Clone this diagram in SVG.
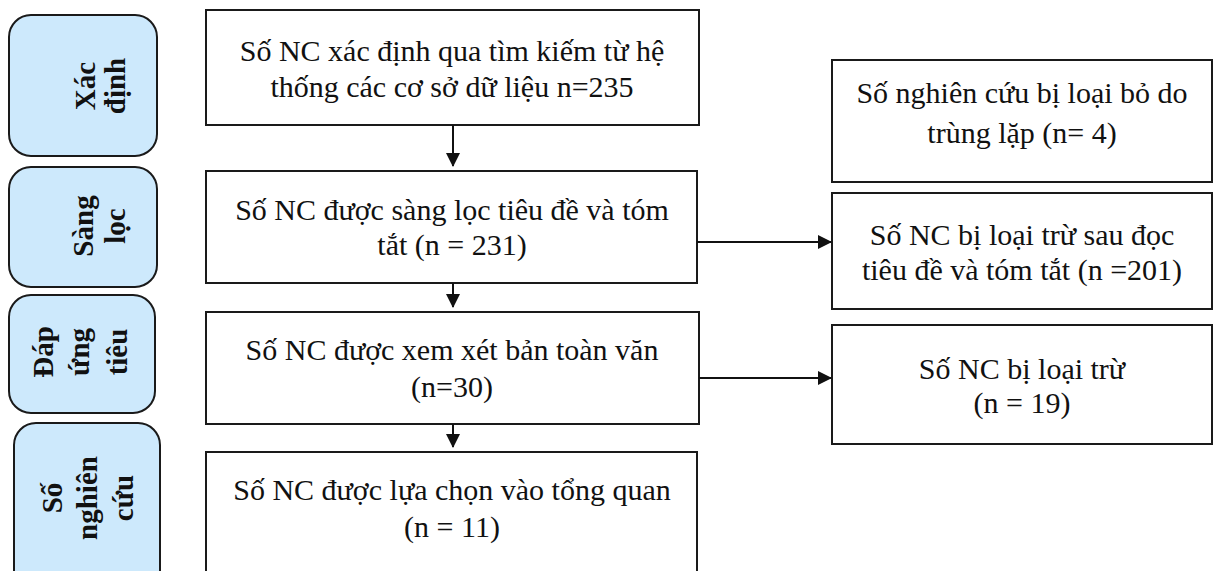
<svg xmlns="http://www.w3.org/2000/svg" width="1216" height="571" viewBox="0 0 1216 571">
<style>
.lbl{fill:#cde9fc;stroke:#1a1a1a;stroke-width:2}
.box{fill:#fff;stroke:#1a1a1a;stroke-width:2}
.lt{font-family:"Liberation Serif",serif;font-weight:bold;font-size:29px;fill:#111;text-anchor:middle}
.bt{font-family:"Liberation Serif",serif;font-size:30px;fill:#111;text-anchor:middle}
.con{stroke:#111;stroke-width:2;fill:none}
</style>
<defs>
<marker id="ah" markerWidth="14" markerHeight="14" refX="13" refY="7" orient="auto" markerUnits="userSpaceOnUse">
<path d="M0,0 L14,7 L0,14 Z" fill="#111"/>
</marker>
</defs>
<rect width="1216" height="571" fill="#fff"/>
<g id="label-xacdinh">
<rect class="lbl" x="9" y="15" width="148" height="141" rx="22"/>
<g transform="translate(83,86) rotate(-90)"><text class="lt" x="0" y="12">Xác</text><text class="lt" x="0" y="42">định</text></g>
</g>
<g id="label-sangloc">
<rect class="lbl" x="9" y="167" width="148" height="120" rx="22"/>
<g transform="translate(83,226) rotate(-90)"><text class="lt" x="0" y="10">Sàng</text><text class="lt" x="0" y="42">lọc</text></g>
</g>
<g id="label-dapung">
<rect class="lbl" x="9" y="295" width="146" height="118" rx="22"/>
<g transform="translate(83,352) rotate(-90)"><text class="lt" x="0" y="-30">Đáp</text><text class="lt" x="0" y="6">ứng</text><text class="lt" x="0" y="44">tiêu</text></g>
</g>
<g id="label-songhiencuu">
<rect class="lbl" x="14" y="423" width="146" height="170" rx="22"/>
<g transform="translate(87,498) rotate(-90)"><text class="lt" x="0" y="-25">Số</text><text class="lt" x="0" y="10">nghiên</text><text class="lt" x="0" y="46">cứu</text></g>
</g>
<g id="box-identified">
<rect class="box" x="206" y="10" width="493" height="115"/>
<text class="bt" x="452" y="61">Số NC xác định qua tìm kiếm từ hệ</text>
<text class="bt" x="452" y="97">thống các cơ sở dữ liệu n=235</text>
</g>
<g id="box-screened">
<rect class="box" x="206" y="171" width="491" height="112"/>
<text class="bt" x="452" y="220">Số NC được sàng lọc tiêu đề và tóm</text>
<text class="bt" x="452" y="255">tắt (n = 231)</text>
</g>
<g id="box-fulltext">
<rect class="box" x="206" y="312" width="493" height="112"/>
<text class="bt" x="452" y="360">Số NC được xem xét bản toàn văn</text>
<text class="bt" x="452" y="397">(n=30)</text>
</g>
<g id="box-included">
<rect class="box" x="206" y="452" width="491" height="140"/>
<text class="bt" x="452" y="500">Số NC được lựa chọn vào tổng quan</text>
<text class="bt" x="452" y="537">(n = 11)</text>
</g>
<g id="box-duplicates">
<rect class="box" x="832" y="60" width="380" height="122"/>
<text class="bt" x="1022" y="103">Số nghiên cứu bị loại bỏ do</text>
<text class="bt" x="1022" y="143">trùng lặp (n= 4)</text>
</g>
<g id="box-excluded-title">
<rect class="box" x="832" y="193" width="380" height="116"/>
<text class="bt" x="1022" y="245">Số NC bị loại trừ sau đọc</text>
<text class="bt" x="1022" y="280">tiêu đề và tóm tắt (n =201)</text>
</g>
<g id="box-excluded-full">
<rect class="box" x="832" y="325" width="380" height="119"/>
<text class="bt" x="1022" y="379">Số NC bị loại trừ</text>
<text class="bt" x="1022" y="413">(n = 19)</text>
</g>
<g id="connectors">
<line class="con" x1="453" y1="125" x2="453" y2="166" marker-end="url(#ah)"/>
<line class="con" x1="453" y1="283" x2="453" y2="307" marker-end="url(#ah)"/>
<line class="con" x1="453" y1="424" x2="453" y2="447" marker-end="url(#ah)"/>
<line class="con" x1="697" y1="242" x2="831" y2="242" marker-end="url(#ah)"/>
<line class="con" x1="699" y1="378" x2="831" y2="378" marker-end="url(#ah)"/>
</g>
</svg>
